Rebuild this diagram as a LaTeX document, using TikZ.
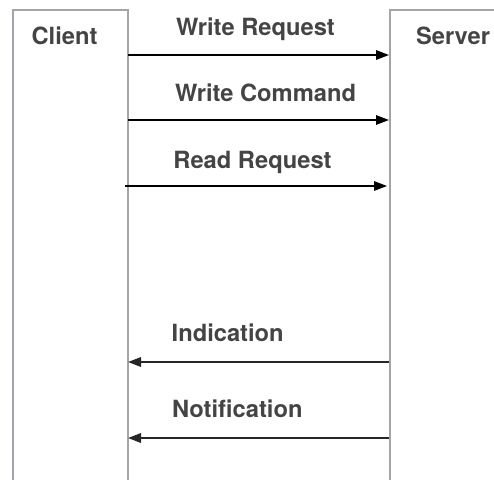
\documentclass[tikz,border=0pt]{standalone}
\usepackage{fontspec}
\setmainfont{TeX Gyre Heros}
\usetikzlibrary{arrows.meta}
\definecolor{boxgray}{HTML}{A4A5AB}
\definecolor{txtgray}{HTML}{444444}
\tikzset{
  lifebox/.style={draw=boxgray, line width=1.4pt},
  lbl/.style={anchor=base, inner sep=0pt, text=txtgray, font=\fontsize{23.7}{27}\selectfont\bfseries},
  msg/.style={draw=black, line width=1.5pt, -{Triangle[length=13pt,width=9.5pt]}},
  msgback/.style={draw=black!85, line width=1.8pt, -{Triangle[length=13pt,width=9.5pt]}}
}
\begin{document}
\begin{tikzpicture}[x=1pt, y={(0pt,-1pt)}]
\useasboundingbox (0,0) rectangle (494,479);
% lifeline boxes
\draw[lifebox] (13,481) -- (13,10) -- (128,10) -- (128,481);
\draw[lifebox] (390,481) -- (390,10) -- (510,10);
\node[lbl] (client) at (64.5,44.5) {Client};
\node[lbl] (server) at (453,44.5) {Server};
% anchor coordinates on lifelines
\coordinate (c1) at (128,55);   \coordinate (s1) at (389,55);
\coordinate (c2) at (128,120);  \coordinate (s2) at (389,120);
\coordinate (c3) at (125,186);  \coordinate (s3) at (387,186);
\coordinate (c4) at (128,362);  \coordinate (s4) at (389,362);
\coordinate (c5) at (128,438);  \coordinate (s5) at (389,438);
% messages
\draw[msg] (c1) -- (s1);
\node[lbl] (t1) at (255.5,35) {Write Request};
\draw[msg] (c2) -- (s2);
\node[lbl] (t2) at (265.5,101.5) {Write Command};
\draw[msg] (c3) -- (s3);
\node[lbl] (t3) at (252.5,168) {Read Request};
\draw[msgback] (s4) -- (c4);
\node[lbl] (t4) at (227.7,341.5) {Indication};
\draw[msgback] (s5) -- (c5);
\node[lbl] (t5) at (237.3,417.5) {Notification};
\end{tikzpicture}
\end{document}
